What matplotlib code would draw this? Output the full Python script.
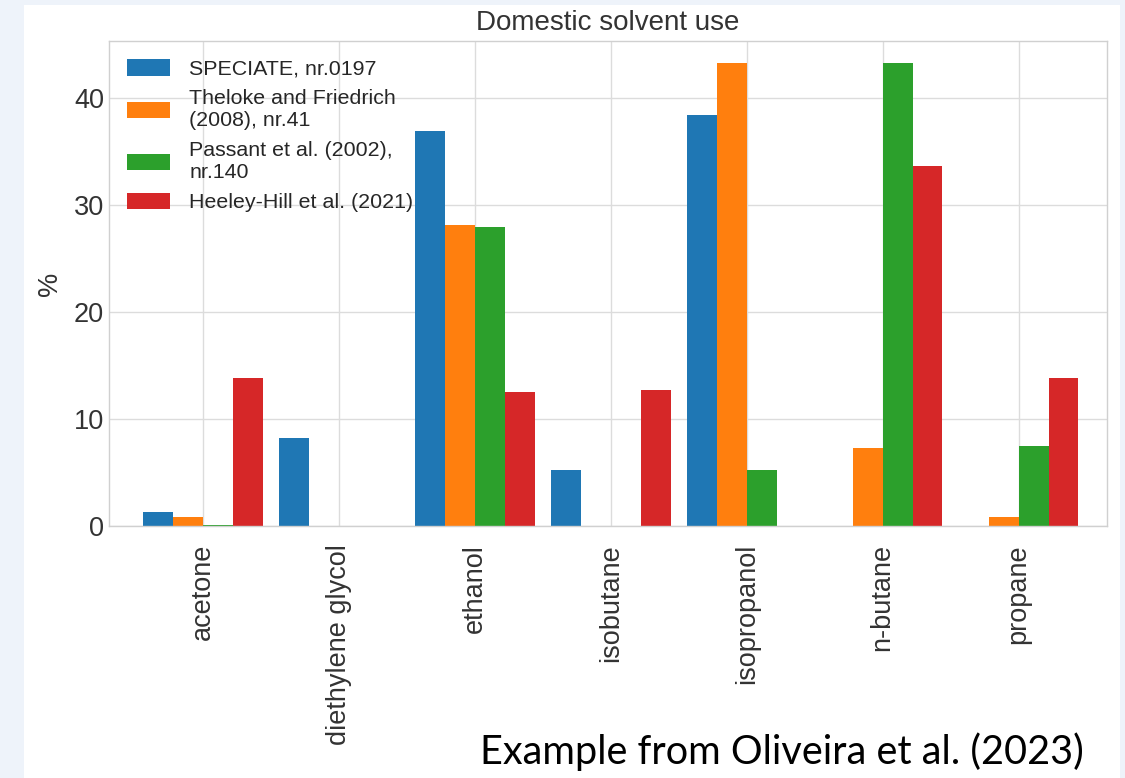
import numpy as np
import matplotlib.pyplot as plt
from matplotlib.patches import Rectangle

# -------- DATA --------
compounds = ["acetone", "diethylene glycol", "ethanol", "isobutane",
             "isopropanol", "n-butane", "propane"]
speciate = [1.3, 8.2, 36.9, 5.2, 38.4, 0.0, 0.0]
theloke = [0.8, 0.0, 28.1, 0.0, 43.2, 7.3, 0.85]
passant = [0.05, 0.0, 27.9, 0.0, 5.2, 43.2, 7.5]
heeley = [13.8, 0.0, 12.5, 12.7, 0.0, 33.6, 13.8]

labels = ["SPECIATE, nr.0197",
          "Theloke and Friedrich\n(2008), nr.41",
          "Passant et al. (2002),\nnr.140",
          "Heeley-Hill et al. (2021)"]
series = [speciate, theloke, passant, heeley]
colors = ["#1f77b4", "#ff7f0e", "#2ca02c", "#d62728"]

# -------- FIGURE --------
plt.style.use("seaborn-v0_8-whitegrid")
plt.rcParams["font.family"] = ["Liberation Sans", "DejaVu Sans"]

fig = plt.figure(figsize=(11.25, 7.78), dpi=100)
fig.patch.set_facecolor("#eef3fa")
# white slide panel behind the chart
fig.add_artist(Rectangle((24 / 1125, 0), (1120 - 24) / 1125, 1 - 5 / 778,
                         transform=fig.transFigure, facecolor="white",
                         edgecolor="none", zorder=-5))

ax = fig.add_axes([109 / 1125, 1 - 526 / 778, (1107 - 109) / 1125, (526 - 41) / 778])

x = np.arange(len(compounds))
width = 0.22
for i, (vals, lab, col) in enumerate(zip(series, labels, colors)):
    ax.bar(x + (i - 1.5) * width, vals, width, label=lab, color=col)

ax.set_xlim(-0.69, 6.65)
ax.set_ylim(0, 45.3)
ax.set_xticks(x)
ax.set_xticklabels(compounds, rotation=90, fontsize=19.5, color="#333333")
ax.tick_params(axis="x", pad=13)
ax.tick_params(axis="y", labelsize=19.5, labelcolor="#333333")
ax.set_yticks([0, 10, 20, 30, 40])
ax.set_ylabel("%", fontsize=19.5, color="#333333", labelpad=8)
ax.set_title("Domestic solvent use", fontsize=20, color="#333333", pad=8)

for s in ax.spines.values():
    s.set_visible(True)
    s.set_color("#d0d0d0")
ax.grid(True, color="#dcdcdc", linewidth=1)

ax.legend(loc="upper left", fontsize=15.4, frameon=False, handlelength=2.0,
          handleheight=0.8, labelspacing=0.5, borderaxespad=0.45,
          handletextpad=0.9)

fig.text(1084 / 1125, 1 - 752 / 778, "Example from Oliveira et al. (2023)",
         fontsize=28.5, family="Lato", ha="right", va="center", color="black")

fig.savefig("out.png", dpi=100, facecolor=fig.get_facecolor())
